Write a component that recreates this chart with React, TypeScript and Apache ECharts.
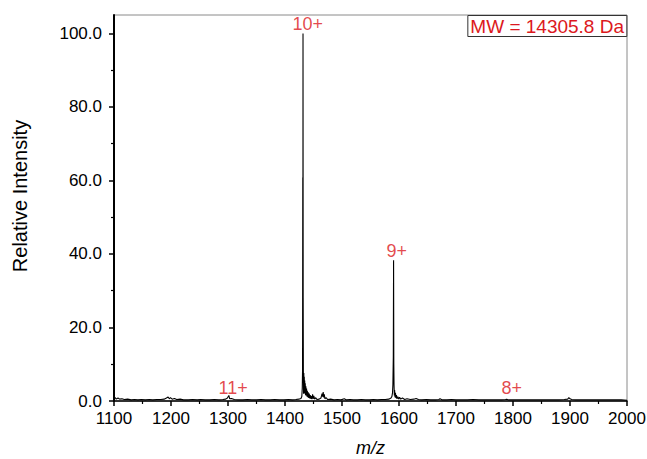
import React, { useEffect, useRef } from "react";
import * as echarts from "echarts";

// ---- data ----
const lowMassPoints: [number, number][] = [
  [1100, 0.6], [1102, 0.9], [1104, 0.5], [1107, 0.8], [1110, 0.5], [1114, 0.6], [1118, 0.4],
  [1124, 0.5], [1130, 0.3], [1136, 0.4], [1142, 0.3], [1148, 0.4], [1155, 0.3], [1162, 0.4],
  [1168, 0.3], [1175, 0.4], [1182, 0.4], [1188, 0.5], [1192, 0.8], [1195, 1.1], [1197, 0.6],
  [1199, 0.9], [1202, 0.5], [1206, 0.7], [1210, 0.4], [1216, 0.5], [1222, 0.3], [1230, 0.3],
  [1238, 0.4], [1246, 0.3], [1252, 0.4], [1260, 0.3], [1268, 0.3], [1276, 0.4], [1284, 0.3],
  [1291, 0.4], [1296, 0.5], [1299, 0.8], [1301.5, 1.5], [1303, 0.6], [1306, 0.7], [1311, 0.4],
  [1318, 0.3], [1326, 0.3], [1334, 0.4], [1342, 0.3], [1350, 0.3], [1358, 0.4], [1366, 0.3],
  [1374, 0.3], [1382, 0.4], [1390, 0.3], [1398, 0.3], [1406, 0.4], [1413, 0.3], [1419, 0.4],
  [1424, 0.5], [1428, 0.7],
];

const peak10Points: [number, number][] = [
  [1429.5, 1.2], [1430.3, 3.5], [1430.8, 8.5], [1431.2, 60.8], [1431.4, 35], [1431.6, 100],
  [1431.9, 28], [1432.2, 8.4], [1432.6, 2.0], [1433.0, 7.6], [1433.4, 2.2], [1433.8, 6.6],
  [1434.2, 2.5], [1434.6, 5.6], [1435.0, 2.0], [1435.5, 4.8], [1436.0, 1.6], [1436.6, 4.0],
  [1437.2, 1.5], [1437.8, 3.4], [1438.5, 1.2], [1439.2, 2.8], [1440.0, 1.0], [1440.8, 2.4],
  [1441.6, 0.8], [1442.5, 2.0], [1443.4, 0.7], [1444.3, 1.6], [1445.2, 0.6], [1446.2, 1.3],
  [1447.2, 0.5], [1448.4, 1.8], [1449.5, 0.6], [1450.5, 1.4], [1452.0, 0.5], [1454.0, 0.9],
  [1456.0, 0.4],
];

const midMassPoints: [number, number][] = [
  [1460, 0.5], [1463, 0.8], [1465, 2.0], [1466, 1.2], [1467, 2.4], [1468, 1.0], [1469, 1.8],
  [1470, 0.6], [1472, 0.9], [1475, 0.4], [1480, 0.5], [1486, 0.3], [1492, 0.4], [1498, 0.3],
  [1504, 0.6], [1508, 0.3], [1514, 0.4], [1520, 0.3], [1527, 0.3], [1534, 0.4], [1541, 0.3],
  [1548, 0.3], [1555, 0.4], [1562, 0.3], [1569, 0.4], [1576, 0.4], [1582, 0.5], [1586, 0.8],
];

const peak9Points: [number, number][] = [
  [1587.5, 1.2], [1588.6, 2.2], [1589.3, 4.5], [1590.0, 12], [1590.5, 38.3], [1590.9, 10],
  [1591.3, 4.3], [1591.8, 1.5], [1592.3, 3.0], [1593.0, 1.0], [1593.8, 2.2], [1594.6, 0.8],
  [1595.5, 1.6], [1596.5, 0.6], [1598.0, 1.2], [1599.5, 0.5], [1601.0, 1.0], [1603.0, 0.5],
  [1606.0, 0.8], [1610.0, 0.4], [1614.0, 0.6], [1620.0, 0.4], [1626.0, 0.5], [1630.0, 0.7],
  [1634.0, 0.4],
];

const highMassPoints: [number, number][] = [
  [1640, 0.3], [1648, 0.4], [1656, 0.3], [1664, 0.3], [1670, 0.4], [1672, 0.6], [1676, 0.3],
  [1684, 0.3], [1692, 0.4], [1700, 0.3], [1710, 0.3], [1720, 0.3], [1730, 0.4], [1740, 0.3],
  [1750, 0.3], [1760, 0.3], [1770, 0.3], [1780, 0.3], [1787, 0.4], [1789, 0.5], [1792, 0.3],
  [1800, 0.3], [1810, 0.3], [1820, 0.3], [1830, 0.3], [1840, 0.3], [1850, 0.3], [1860, 0.3],
  [1870, 0.3], [1880, 0.3], [1890, 0.4], [1896, 0.5], [1898, 0.9], [1900, 0.6], [1903, 0.4],
  [1910, 0.3], [1920, 0.3], [1930, 0.3], [1940, 0.3], [1950, 0.3], [1960, 0.3], [1970, 0.3],
  [1980, 0.3], [1990, 0.3], [2000, 0.2],
];

const chargeLabels = ["11+", "10+", "9+", "8+"];
const chargeLabelMz = [1309, 1440, 1596, 1798];
const chargeLabelY = [1.2, 100, 38.3, 1.0];

const yMajorTicks = [0, 20, 40, 60, 80, 100];
const yMinorTicks = [10, 30, 50, 70, 90];

const mwText = "MW = 14305.8 Da";
const xAxisName = "m/z";
const yAxisName = "Relative Intensity";

const FONT = "Liberation Sans, Arial, sans-serif";
const RED = "#dc1820";

export default function App() {
  const ref = useRef<HTMLDivElement>(null);

  useEffect(() => {
    if (!ref.current) return;
    document.body.style.margin = "0";
    const chart = echarts.init(ref.current, null, { renderer: "svg" });

    const spectrum = [
      ...lowMassPoints,
      ...peak10Points,
      ...midMassPoints,
      ...peak9Points,
      ...highMassPoints,
    ];
    const annotations = chargeLabels.map((t, i) => [chargeLabelMz[i], chargeLabelY[i]]);

    const option: any = {
      animation: false,
      backgroundColor: "#fff",
      textStyle: { fontFamily: FONT },
      grid: {
        left: 114,
        right: 20,
        top: 15,
        bottom: 58,
        show: true,
        borderColor: "#8a8a8a",
        borderWidth: 1,
        containLabel: false,
        outerBoundsMode: "none",
      },
      title: {
        text: mwText,
        right: 20,
        top: 15,
        borderColor: "#333",
        borderWidth: 1,
        padding: [2, 3, 1, 3],
        backgroundColor: "#fff",
        textStyle: { color: RED, fontSize: 19, fontWeight: "normal", fontFamily: FONT },
      },
      graphic: [
        {
          type: "text",
          x: 20,
          y: 196,
          rotation: Math.PI / 2,
          style: {
            text: yAxisName,
            fontSize: 20,
            fontFamily: FONT,
            fill: "#000",
            textAlign: "center",
            textVerticalAlign: "middle",
          },
        },
      ],
      xAxis: {
        type: "value",
        min: 1100,
        max: 2000,
        interval: 100,
        axisLine: { show: true, lineStyle: { color: "#000", width: 1.5 } },
        axisTick: { show: true, length: 5, lineStyle: { color: "#000", width: 1.5 } },
        minorTick: { show: true, splitNumber: 2, length: 3, lineStyle: { color: "#000", width: 1.2 } },
        axisLabel: {
          color: "#000",
          fontSize: 17,
          fontFamily: FONT,
          margin: 9,
          formatter: (v: number) => String(v),
        },
        splitLine: { show: false },
        minorSplitLine: { show: false },
        name: xAxisName,
        nameLocation: "middle",
        nameGap: 38,
        nameTextStyle: { fontStyle: "italic", fontSize: 18, color: "#000", fontFamily: FONT },
      },
      yAxis: [
        {
          type: "value",
          min: 0,
          max: 105,
          position: "left",
          axisLine: { show: true, lineStyle: { color: "#000", width: 2 } },
          axisTick: { show: true, customValues: yMajorTicks, length: 5, lineStyle: { color: "#000", width: 1.5 } },
          axisLabel: {
            customValues: yMajorTicks,
            formatter: (v: number) => v.toFixed(1),
            color: "#000",
            fontSize: 17,
            fontFamily: FONT,
            margin: 12,
          },
          splitLine: { show: false },
        },
        {
          type: "value",
          min: 0,
          max: 105,
          position: "left",
          axisLine: { show: false },
          axisTick: { show: true, customValues: yMinorTicks, length: 3, lineStyle: { color: "#000", width: 1.2 } },
          axisLabel: { show: false },
          splitLine: { show: false },
        },
      ],
      series: [
        {
          type: "line",
          data: spectrum,
          yAxisIndex: 0,
          symbol: "none",
          showSymbol: false,
          lineStyle: { color: "#000", width: 1.1 },
          z: 3,
        },
        {
          type: "scatter",
          data: annotations,
          yAxisIndex: 0,
          symbolSize: 0,
          silent: true,
          label: {
            show: true,
            position: "top",
            distance: 0,
            formatter: (p: any) => chargeLabels[p.dataIndex],
            color: RED,
            fontSize: 18,
            fontFamily: FONT,
          },
          z: 4,
        },
      ],
    };

    chart.setOption(option);
    return () => chart.dispose();
  }, []);

  return <div ref={ref} style={{ width: 647, height: 459 }} />;
}
